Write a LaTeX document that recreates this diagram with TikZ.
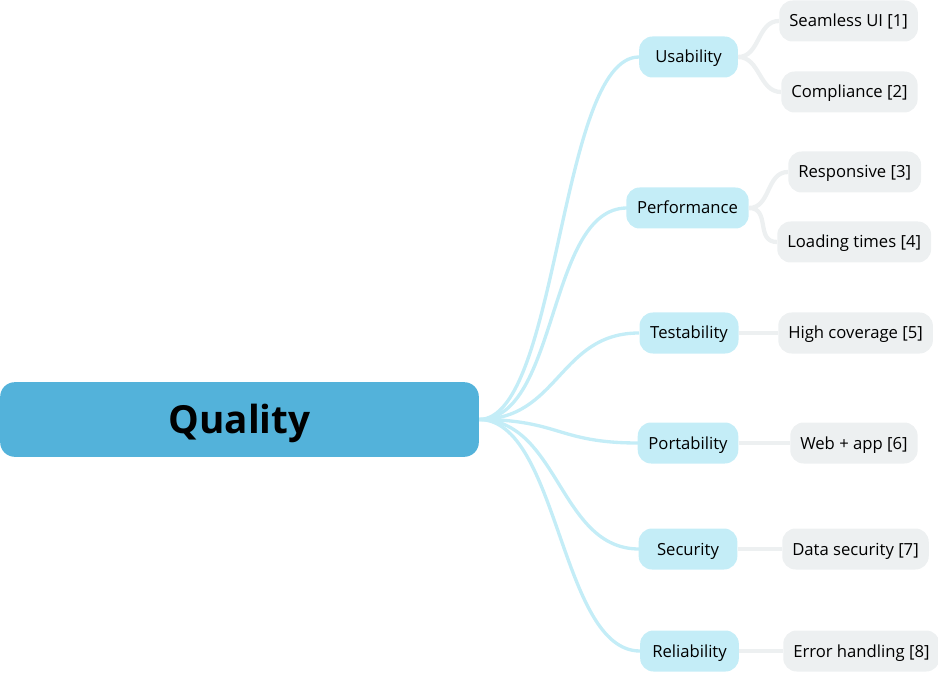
\documentclass[tikz,border=0pt]{standalone}
\usepackage{fontspec}
\setmainfont{Open Sans}
\usetikzlibrary{positioning}
\usepackage{xcolor}
\definecolor{rootblue}{HTML}{53B2DA}
\definecolor{topiccyan}{HTML}{C4EDF7}
\definecolor{leafgrey}{HTML}{EDF0F1}

\begin{document}
\begin{tikzpicture}[x=0.75pt, y=-0.75pt]
\tikzset{
    rootnode/.style={rectangle, rounded corners=11pt, fill=rootblue, minimum width=359pt, minimum height=56pt, inner sep=0pt, text height=21pt, text depth=0pt, font=\bfseries\fontsize{29}{34}\selectfont},
    topicnode/.style={rectangle, rounded corners=10pt, fill=topiccyan, minimum width=74pt, minimum height=30.75pt, inner xsep=8pt, inner ysep=0pt, text height=9pt, text depth=0pt, font=\fontsize{12.5}{15}\selectfont},
    leafnode/.style={rectangle, rounded corners=10pt, fill=leafgrey, minimum height=30.75pt, inner xsep=7.5pt, inner ysep=0pt, anchor=west, text height=9pt, text depth=0pt, font=\fontsize{12.5}{15}\selectfont},
    rootlink/.style={draw=topiccyan, line width=2.5pt},
    leaflink/.style={draw=leafgrey, line width=3.2pt}
}
\useasboundingbox (0,0) rectangle (938,673);

% links go first so the boxes sit on top of them
\coordinate (hub) at (479,419.5);
\coordinate (usabilityW) at (639,57);
\coordinate (performanceW) at (627,208);
\coordinate (testabilityW) at (639,333);
\coordinate (portabilityW) at (638,443);
\coordinate (securityW) at (639,549);
\coordinate (reliabilityW) at (640,651);
\foreach \t in {usabilityW,performanceW,testabilityW,portabilityW,securityW,reliabilityW}
    \draw[rootlink] (hub) .. controls +(80,0) and +(-80,0) .. (\t);

\node[rootnode] (quality) at (239.5,419.5) {Quality};

\node[topicnode] (usability) at (688.5,57) {Usability};
\node[topicnode] (performance) at (687.5,208) {Performance};
\node[topicnode] (testability) at (689,333) {Testability};
\node[topicnode] (portability) at (688,443) {Portability};
\node[topicnode] (security) at (688,549) {Security};
\node[topicnode] (reliability) at (689.5,651) {Reliability};

\node[leafnode] (seamless) at (779,21) {Seamless UI [1]};
\node[leafnode] (compliance) at (781,92) {Compliance [2]};
\node[leafnode] (responsive) at (788,172) {Responsive [3]};
\node[leafnode] (loading) at (777,242) {Loading times [4]};
\node[leafnode] (coverage) at (778,333) {High coverage [5]};
\node[leafnode] (webapp) at (790,443) {Web + app [6]};
\node[leafnode] (datasec) at (782,549) {Data security [7]};
\node[leafnode] (errors) at (783,651) {Error handling [8]};

\draw[leaflink] (usability.east) .. controls +(22,0) and +(-22,0) .. (seamless.west);
\draw[leaflink] (usability.east) .. controls +(22,0) and +(-22,0) .. (compliance.west);
\draw[leaflink] (performance.east) .. controls +(22,0) and +(-22,0) .. (responsive.west);
\draw[leaflink] (performance.east) .. controls +(22,0) and +(-22,0) .. (loading.west);
\draw[leaflink] (testability.east) -- (coverage.west);
\draw[leaflink] (portability.east) -- (webapp.west);
\draw[leaflink] (security.east) -- (datasec.west);
\draw[leaflink] (reliability.east) -- (errors.west);

\end{tikzpicture}
\end{document}
